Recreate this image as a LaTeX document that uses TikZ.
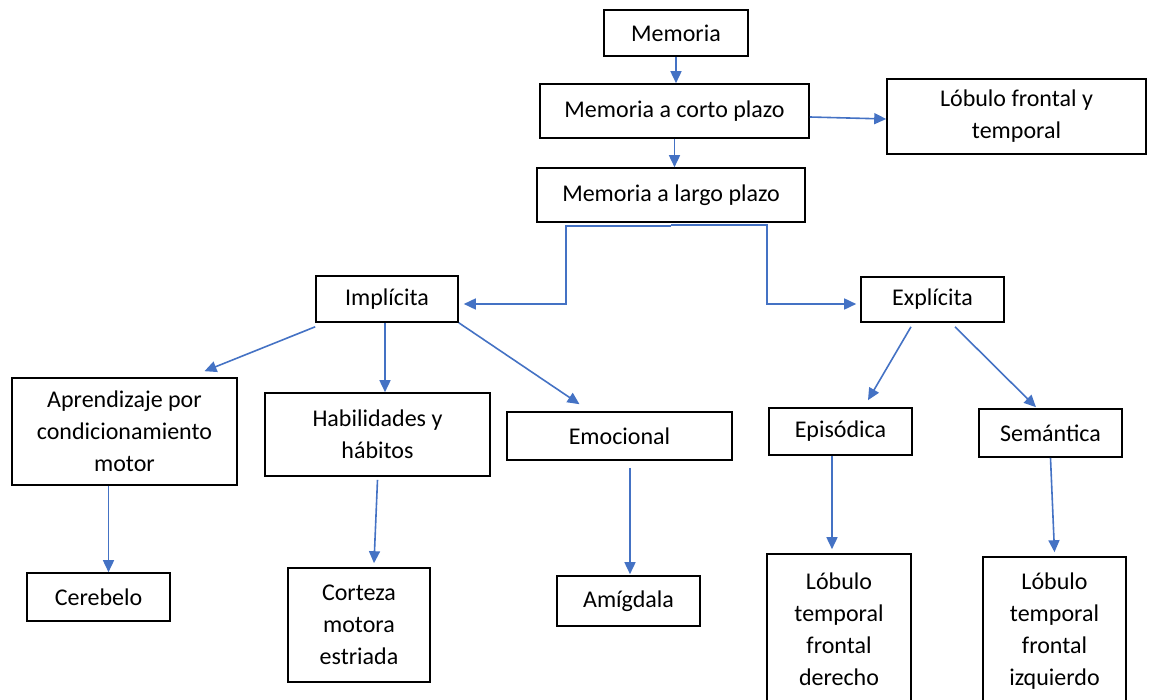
\documentclass[tikz,border=0pt]{standalone}
\usepackage{fontspec}
\setmainfont{Carlito}
\usetikzlibrary{arrows.meta}
\definecolor{azul}{HTML}{4472C4}

\begin{document}
\begin{tikzpicture}[x=0.5pt,y=-0.5pt,
  caja/.style={draw,line width=0.8pt,align=center,inner sep=0pt,font=\fontsize{12}{16}\selectfont},
  flecha/.style={azul,line width=0.8pt,-{Triangle[length=6pt,width=5.5pt]}}]
\useasboundingbox (0,0) rectangle (1152,700);
\clip (0,0) rectangle (1152,700);

\node[caja,minimum width=72pt,minimum height=23pt] (mem) at (676,33) {Memoria};
\node[caja,minimum width=134.5pt,minimum height=27pt] (corto) at (674.5,111) {Memoria a corto plazo};
\node[caja,minimum width=129.5pt,minimum height=37.5pt] (lfront) at (1016.5,116.5) {Lóbulo frontal y\\temporal};
\node[caja,minimum width=134pt,minimum height=27pt] (largo) at (671,195) {Memoria a largo plazo};

\node[caja,minimum width=71pt,minimum height=23pt] (impl) at (387,299) {Implícita};
\node[caja,minimum width=71.5pt,minimum height=22.5pt] (expl) at (932.5,299.5) {Explícita};

\node[caja,minimum width=112.5pt,minimum height=53.5pt] (aprend) at (124.5,431.5) {Aprendizaje por\\condicionamiento\\motor};
\node[caja,minimum width=112.5pt,minimum height=41.5pt] (habil) at (377.5,434.5) {Habilidades y\\hábitos};
\node[caja,minimum width=112.5pt,minimum height=24pt] (emoc) at (619.5,436) {Emocional};
\node[caja,minimum width=71.5pt,minimum height=23.5pt] (episo) at (840.5,431.5) {Episódica};
\node[caja,minimum width=71.5pt,minimum height=24pt] (seman) at (1050.5,433) {Semántica};

\node[caja,minimum width=71.5pt,minimum height=24pt] (cereb) at (98.5,597) {Cerebelo};
\node[caja,minimum width=71pt,minimum height=57pt] (cortez) at (359,625) {Corteza\\motora\\estriada};
\node[caja,minimum width=71.5pt,minimum height=25pt] (amig) at (628.5,601) {Amígdala};
\node[caja,minimum width=72pt,minimum height=75pt] (lder) at (839,629) {Lóbulo\\temporal\\frontal\\derecho};
\node[caja,minimum width=71.5pt,minimum height=74pt] (lizq) at (1054.5,631) {Lóbulo\\temporal\\frontal\\izquierdo};

\draw[flecha] (mem.south) -- (mem.south |- corto.north);
\draw[flecha] (corto.south) -- (corto.south |- largo.north);
\draw[flecha] ([yshift=-3pt]corto.east) -- ([yshift=-1.25pt]lfront.west);

\draw[flecha] ([yshift=-1.5pt]largo.south) -- ++(-105,0) |- ([xshift=2.5pt,yshift=-2.5pt]impl.east);
\draw[flecha] ([yshift=-1pt]largo.south) -- ++(96,0) |- ([xshift=-2pt,yshift=-2.25pt]expl.west);

\draw[flecha] ([yshift=-2pt]impl.south west) -- ([xshift=40pt,yshift=3pt]aprend.north);
\draw[flecha] ([xshift=-1pt]impl.south) -- ([xshift=-1pt]impl.south |- habil.north);
\draw[flecha] (impl.south east) -- ([xshift=-20pt,yshift=3.5pt]emoc.north);
\draw[flecha] ([xshift=-10.75pt,yshift=-2pt]expl.south) -- ([xshift=13.75pt,yshift=3.5pt]episo.north);
\draw[flecha] ([xshift=11.25pt,yshift=-2pt]expl.south) -- ([xshift=-7.25pt,yshift=0.5pt]seman.north);

\draw[flecha] ([xshift=-8pt]aprend.south) -- ([xshift=-8pt]aprend.south |- cereb.north);
\draw[flecha] ([yshift=-1.5pt]habil.south) -- ([xshift=7.5pt,yshift=2pt]cortez.north);
\draw[flecha] ([xshift=5.25pt,yshift=-3.5pt]emoc.south) -- ([xshift=0.75pt,yshift=0.5pt]amig.north);
\draw[flecha] ([xshift=-4.25pt]episo.south) -- ([xshift=-3.5pt,yshift=2pt]lder.north);
\draw[flecha] (seman.south) -- ([yshift=2pt]lizq.north);
\end{tikzpicture}
\end{document}
